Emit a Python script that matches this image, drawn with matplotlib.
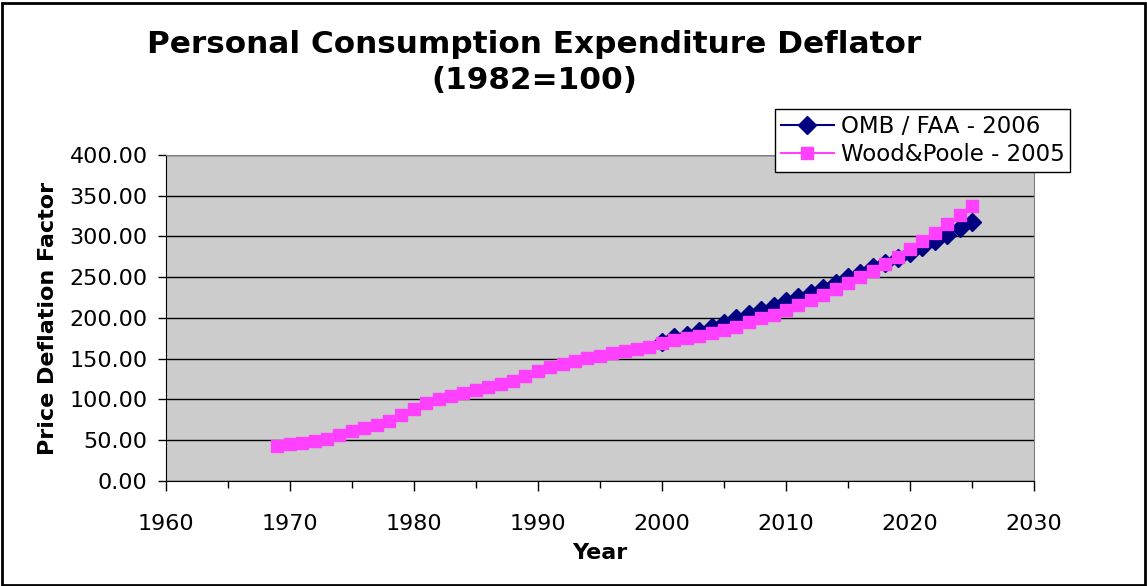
import numpy as np
import matplotlib
matplotlib.use("Agg")
import matplotlib.pyplot as plt
from matplotlib.ticker import MultipleLocator, FormatStrFormatter
from matplotlib.patches import Rectangle

# OMB / FAA - 2006 forecast, 2000-2025
omb_years = list(range(2000, 2026))
omb_values = [171.0, 176.5, 179.5, 184.0, 188.5, 194.0, 200.0, 205.5, 210.0, 215.0,
              221.0, 226.0, 231.0, 237.0, 243.5, 250.0, 255.5, 262.0, 268.0, 274.0,
              280.0, 287.0, 294.0, 302.0, 310.5, 318.0]

# Wood&Poole - 2005, 1969-2025
wp_years = list(range(1969, 2026))
wp_values = [43.3, 45.4, 47.0, 49.1, 51.9, 56.8, 61.3, 64.6, 68.3, 74.0,
             80.6, 88.0, 95.3, 100.0, 104.5, 108.5, 111.5, 115.0, 118.5, 122.5,
             128.5, 134.5, 140.0, 144.0, 147.2, 150.5, 153.8, 156.7, 159.5, 162.0,
             164.8, 168.9, 172.5, 175.0, 178.0, 181.2, 185.3, 189.3, 194.5, 199.6,
             204.0, 209.8, 216.0, 222.0, 228.2, 235.6, 242.6, 249.9, 258.0, 266.3,
             275.2, 284.7, 294.5, 304.7, 315.0, 326.4, 337.8]

fig = plt.figure(figsize=(11.47, 5.86), dpi=100)
ax = fig.add_axes([0.1445, 0.1792, 0.757, 0.5563])
ax.set_facecolor("#CCCCCC")

ax.plot(omb_years, omb_values, color="#000080", marker="D", markersize=9.5,
        linewidth=1.5, label="OMB / FAA - 2006", zorder=3)
ax.plot(wp_years, wp_values, color="#FF40FF", marker="s", markersize=8.8,
        linewidth=1.5, label="Wood&Poole - 2005", zorder=4)

ax.set_xlim(1960, 2030)
ax.set_ylim(0, 400)
ax.xaxis.set_major_locator(MultipleLocator(10))
ax.xaxis.set_minor_locator(MultipleLocator(5))
ax.yaxis.set_major_locator(MultipleLocator(50))
ax.yaxis.set_major_formatter(FormatStrFormatter("%.2f"))
ax.grid(axis="y", color="black", linewidth=1)
ax.set_axisbelow(True)

ax.tick_params(axis="x", which="major", direction="out", length=7, width=1, labelsize=16, pad=17)
ax.tick_params(axis="x", which="minor", direction="out", length=5, width=1)
ax.tick_params(axis="y", direction="out", length=6, width=1, labelsize=16, pad=7)

for side in ["left", "bottom"]:
    ax.spines[side].set_color("black")
for side in ["top", "right"]:
    ax.spines[side].set_color("#808080")

ax.set_xlabel("Year", fontsize=16, fontweight="bold", labelpad=6)
ax.set_ylabel("Price Deflation Factor", fontsize=16, fontweight="bold", labelpad=8)

fig.text(0.4656, 0.893, "Personal Consumption Expenditure Deflator\n(1982=100)",
         ha="center", va="center", fontsize=22.4, fontweight="bold", linespacing=1.3)

leg = ax.legend(loc="lower right", bbox_to_anchor=(0.9329, 0.7065), bbox_transform=fig.transFigure,
                fontsize=16.5, frameon=True, fancybox=False, framealpha=1,
                edgecolor="black", borderpad=0.25, labelspacing=0.25,
                handlelength=2.3, handletextpad=0.3, borderaxespad=0)
leg.get_frame().set_linewidth(1)
leg.set_zorder(10)

fig.patches.append(Rectangle((0.002, 0.002), 0.996, 0.993, transform=fig.transFigure,
                             fill=False, edgecolor="black", linewidth=2))

fig.savefig("out.png", dpi=100)
